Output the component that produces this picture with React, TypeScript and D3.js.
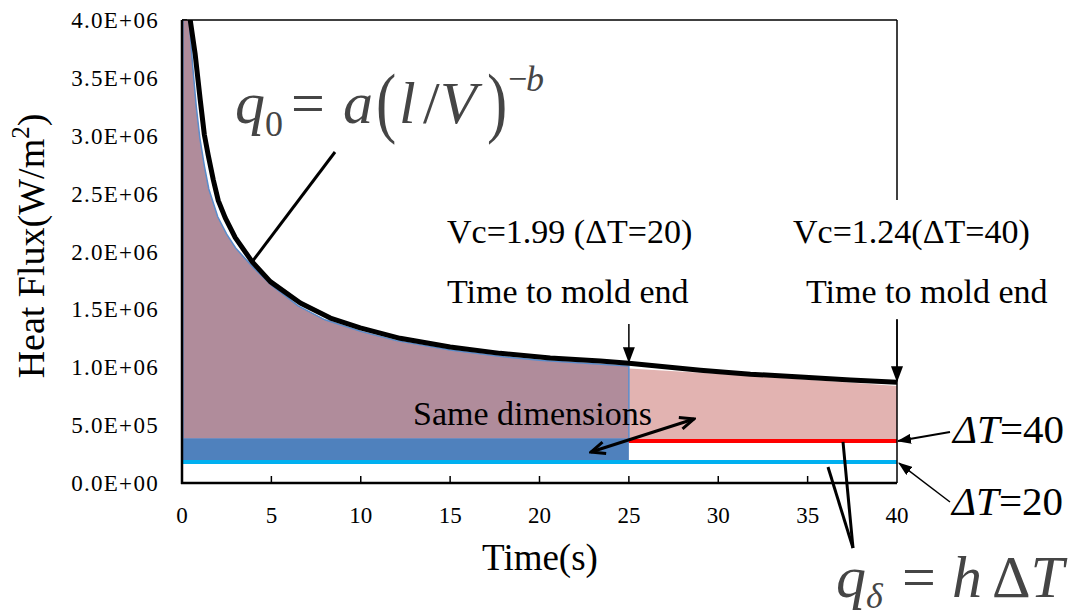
import * as d3 from "d3";
import { useEffect, useRef } from "react";

const xTicks = [0, 5, 10, 15, 20, 25, 30, 35, 40];
const yTicks = [0, 5e5, 1e6, 1.5e6, 2e6, 2.5e6, 3e6, 3.5e6, 4e6];

// measured heat flux (black line)
const measuredTime = [0.4, 0.46, 0.74, 1.02, 1.25, 1.47, 1.75, 2.03, 2.42, 2.98, 3.93, 4.94, 6.62, 8.3, 9.97, 12.2, 15, 17.8, 20.6, 23.4, 25, 29, 31.8, 34.6, 37.4, 40];
const measuredFlux = [4.1e6, 4.0e6, 3.7e6, 3.31e6, 3.01e6, 2.83e6, 2.62e6, 2.44e6, 2.29e6, 2.12e6, 1.91e6, 1.74e6, 1.555e6, 1.425e6, 1.34e6, 1.25e6, 1.175e6, 1.12e6, 1.08e6, 1.055e6, 1.035e6, 0.975e6, 0.94e6, 0.915e6, 0.89e6, 0.87e6];

// q0 model, Vc=1.99 (ΔT=20), until mold end at 25 s
const model20Time = [0.05, 0.4, 0.6, 0.8, 1, 1.25, 1.5, 2, 2.5, 3, 4, 5, 6.5, 8, 10, 12, 15, 18, 20, 23, 25];
const model20Flux = [4.6e6, 4.0e6, 3.6e6, 3.25e6, 2.98e6, 2.74e6, 2.54e6, 2.3e6, 2.15e6, 2.03e6, 1.86e6, 1.71e6, 1.53e6, 1.41e6, 1.31e6, 1.23e6, 1.15e6, 1.09e6, 1.06e6, 1.03e6, 1.01e6];

// q0 model, Vc=1.24 (ΔT=40), shown from 25 s to mold end at 40 s
const model40Time = [25, 29, 32, 35, 37.5, 40];
const model40Flux = [0.99e6, 0.953e6, 0.925e6, 0.893e6, 0.866e6, 0.838e6];

// q_delta = h ΔT
const deltaT = [20, 40];
const qDelta = [1.81e5, 3.63e5];
const moldEnd = [25, 40];
const sameDimTop = 3.8e5;

const FONT = "'Liberation Serif', 'Times New Roman', serif";

function sci(v: number) {
  if (v === 0) return "0.0E+00";
  const e = Math.floor(Math.log10(v));
  const m = v / Math.pow(10, e);
  return `${m.toFixed(1)}E+${String(e).padStart(2, "0")}`;
}

export default function App() {
  const svgRef = useRef<SVGSVGElement | null>(null);

  useEffect(() => {
    if (!svgRef.current) return;
    const svg = d3.select(svgRef.current);
    svg.selectAll("*").remove();

    const width = 1076;
    const height = 615;
    svg.attr("width", width).attr("height", height);

    const x = d3.scaleLinear().domain([0, 40]).range([182, 897]);
    const y = d3.scaleLinear().domain([0, 4e6]).range([483, 20]);

    const defs = svg.append("defs");
    defs.append("clipPath").attr("id", "plot")
      .append("rect")
      .attr("x", x(0)).attr("y", y(4e6))
      .attr("width", x(40) - x(0)).attr("height", y(0) - y(4e6));

    defs.append("marker")
      .attr("id", "headFill")
      .attr("markerUnits", "userSpaceOnUse")
      .attr("viewBox", "0 0 16 12")
      .attr("markerWidth", 16).attr("markerHeight", 12)
      .attr("refX", 15).attr("refY", 6)
      .attr("orient", "auto")
      .append("path").attr("d", "M0,0 L16,6 L0,12 Z").attr("fill", "#000");

    defs.append("marker")
      .attr("id", "headSmall")
      .attr("markerUnits", "userSpaceOnUse")
      .attr("viewBox", "0 0 14 10")
      .attr("markerWidth", 14).attr("markerHeight", 10)
      .attr("refX", 13).attr("refY", 5)
      .attr("orient", "auto")
      .append("path").attr("d", "M0,0 L14,5 L0,10 Z").attr("fill", "#000");

    defs.append("marker")
      .attr("id", "headOpen")
      .attr("markerUnits", "userSpaceOnUse")
      .attr("viewBox", "-2 -2 18 16")
      .attr("markerWidth", 18).attr("markerHeight", 16)
      .attr("refX", 14).attr("refY", 6)
      .attr("orient", "auto-start-reverse")
      .append("path").attr("d", "M0,0 L14,6 L0,12")
      .attr("fill", "none").attr("stroke", "#000").attr("stroke-width", 3);

    // y ticks (inward, mostly hidden by fills)
    svg.append("g").selectAll("line")
      .data(yTicks).enter().append("line")
      .attr("x1", x(0)).attr("x2", x(0) + 5)
      .attr("y1", d => y(d)).attr("y2", d => y(d))
      .attr("stroke", "#000").attr("stroke-width", 1.5);

    const plot = svg.append("g").attr("clip-path", "url(#plot)");

    // ΔT=40 area, 25-40 s
    const pinkPts = model40Time.map((t, i) => [t, model40Flux[i]] as [number, number]);
    plot.append("path")
      .attr("fill", "#e2b3b1")
      .attr("d", d3.area<[number, number]>()
        .x(d => x(d[0])).y0(y(qDelta[1])).y1(d => y(d[1]))(pinkPts)!);

    // red line ΔT=40
    plot.append("line")
      .attr("x1", x(0)).attr("x2", x(40))
      .attr("y1", y(qDelta[1])).attr("y2", y(qDelta[1]))
      .attr("stroke", "#ff0000").attr("stroke-width", 4);

    // ΔT=20 area, 0-25 s
    const purplePts = model20Time.map((t, i) => [t, model20Flux[i]] as [number, number]);
    plot.append("path")
      .attr("fill", "#b08c9b")
      .attr("stroke", "#5a8ccc").attr("stroke-width", 1.5)
      .attr("d", d3.area<[number, number]>()
        .x(d => x(d[0])).y0(y(sameDimTop)).y1(d => y(d[1]))(purplePts)!);

    // same dimensions block
    plot.append("rect")
      .attr("x", x(0)).attr("width", x(moldEnd[0]) - x(0))
      .attr("y", y(sameDimTop)).attr("height", y(qDelta[0]) - y(sameDimTop))
      .attr("fill", "#4f81bd");

    // cyan line ΔT=20
    plot.append("line")
      .attr("x1", x(0)).attr("x2", x(40))
      .attr("y1", y(qDelta[0])).attr("y2", y(qDelta[0]))
      .attr("stroke", "#00b0f0").attr("stroke-width", 4);

    // measured curve
    const measPts = measuredTime.map((t, i) => [t, measuredFlux[i]] as [number, number]);
    plot.append("path")
      .attr("fill", "none")
      .attr("stroke", "#000").attr("stroke-width", 5)
      .attr("stroke-linejoin", "round")
      .attr("d", d3.line<[number, number]>().x(d => x(d[0])).y(d => y(d[1]))(measPts)!);

    // frame
    svg.append("line").attr("x1", x(0)).attr("x2", x(40)).attr("y1", y(4e6)).attr("y2", y(4e6))
      .attr("stroke", "#000").attr("stroke-width", 1.5);
    svg.append("line").attr("x1", x(40)).attr("x2", x(40)).attr("y1", y(4e6)).attr("y2", y(0))
      .attr("stroke", "#000").attr("stroke-width", 1.5);
    svg.append("line").attr("x1", x(0)).attr("x2", x(0)).attr("y1", y(4e6)).attr("y2", y(0) + 1)
      .attr("stroke", "#000").attr("stroke-width", 2.5);
    svg.append("line").attr("x1", x(0) - 1).attr("x2", x(40)).attr("y1", y(0)).attr("y2", y(0))
      .attr("stroke", "#000").attr("stroke-width", 2.5);

    // x ticks inward
    svg.append("g").selectAll("line")
      .data(xTicks.slice(1, -1)).enter().append("line")
      .attr("x1", d => x(d)).attr("x2", d => x(d))
      .attr("y1", y(0)).attr("y2", y(0) - 7)
      .attr("stroke", "#000").attr("stroke-width", 1.5);

    // tick labels
    svg.append("g").selectAll("text")
      .data(xTicks).enter().append("text")
      .attr("x", d => x(d)).attr("y", 523)
      .attr("text-anchor", "middle")
      .attr("font-family", FONT).attr("font-size", 23)
      .text(d => d);

    svg.append("g").selectAll("text")
      .data(yTicks).enter().append("text")
      .attr("x", 159).attr("y", d => y(d) + 8)
      .attr("text-anchor", "end")
      .attr("font-family", FONT).attr("font-size", 23)
      .attr("letter-spacing", 1.3)
      .text(d => sci(d));

    // axis titles
    const yt = svg.append("text")
      .attr("transform", "translate(44,246) rotate(-90)")
      .attr("text-anchor", "middle")
      .attr("font-family", FONT).attr("font-size", 38);
    yt.append("tspan").text("Heat Flux(W/m");
    yt.append("tspan").attr("dy", -15).attr("font-size", 25).text("2");
    yt.append("tspan").attr("dy", 15).text(")");

    svg.append("text")
      .attr("x", 540).attr("y", 570)
      .attr("text-anchor", "middle")
      .attr("font-family", FONT).attr("font-size", 37)
      .text("Time(s)");

    // white box behind right annotation text
    svg.append("rect").attr("x", 785).attr("y", 200).attr("width", 270).attr("height", 119).attr("fill", "#fff");

    const label = (tx: number, ty: number, s: string, size = 34) =>
      svg.append("text").attr("x", tx).attr("y", ty)
        .attr("font-family", FONT).attr("font-size", size).text(s);

    label(447, 243, `Vc=1.99 (ΔT=${deltaT[0]})`);
    label(447, 303, "Time to mold end");
    label(793, 243, `Vc=1.24(ΔT=${deltaT[1]})`);
    label(806, 303, "Time to mold end");
    label(413, 425, "Same dimensions");

    // mold end arrows
    const measAt = (t: number) => measuredFlux[measuredTime.indexOf(t)];
    moldEnd.forEach((t, i) => {
      svg.append("line")
        .attr("x1", x(t)).attr("x2", x(t))
        .attr("y1", i === 0 ? 324 : 320).attr("y2", y(measAt(t)) - 1)
        .attr("stroke", "#000").attr("stroke-width", 1.5)
        .attr("marker-end", "url(#headFill)");
    });

    // same dimensions double arrow
    svg.append("line")
      .attr("x1", 591).attr("y1", 452).attr("x2", 694).attr("y2", 419)
      .attr("stroke", "#000").attr("stroke-width", 3)
      .attr("marker-start", "url(#headOpen)")
      .attr("marker-end", "url(#headOpen)");

    // ΔT labels with arrows
    const dtLabel = (tx: number, ty: number, v: number) => {
      const t = svg.append("text").attr("x", tx).attr("y", ty)
        .attr("font-family", FONT).attr("font-size", 41);
      t.append("tspan").attr("font-style", "italic").text("ΔT");
      t.append("tspan").text(`=${v}`);
    };
    dtLabel(953, 443, deltaT[1]);
    dtLabel(952, 515, deltaT[0]);

    svg.append("line")
      .attr("x1", 950).attr("y1", 432).attr("x2", x(40) + 1).attr("y2", y(qDelta[1]))
      .attr("stroke", "#000").attr("stroke-width", 2)
      .attr("marker-end", "url(#headSmall)");
    svg.append("line")
      .attr("x1", 950).attr("y1", 502).attr("x2", x(40) + 2).attr("y2", y(qDelta[0]) + 1)
      .attr("stroke", "#000").attr("stroke-width", 1.5)
      .attr("marker-end", "url(#headSmall)");

    // q0 formula pointer
    svg.append("line")
      .attr("x1", 335).attr("y1", 152).attr("x2", 252).attr("y2", 262)
      .attr("stroke", "#000").attr("stroke-width", 3);

    // qδ pointers
    svg.append("line").attr("x1", 853).attr("y1", 548).attr("x2", 843).attr("y2", y(qDelta[1]) + 1)
      .attr("stroke", "#000").attr("stroke-width", 3);
    svg.append("line").attr("x1", 853).attr("y1", 548).attr("x2", 828).attr("y2", y(qDelta[0]) + 5)
      .attr("stroke", "#000").attr("stroke-width", 3);

    // formulas
    const gray = "#454545";
    const piece = (tx: number, ty: number, s: string, size: number, italic = false) =>
      svg.append("text").attr("x", tx).attr("y", ty)
        .attr("font-family", FONT).attr("font-size", size)
        .attr("font-style", italic ? "italic" : "normal")
        .attr("fill", gray).text(s);
    const paren = (tx: number, ty: number, s: string) =>
      svg.append("text")
        .attr("transform", `translate(${tx},${ty}) scale(0.78,1)`)
        .attr("font-family", FONT).attr("font-size", 78)
        .attr("fill", gray).text(s);

    piece(235, 123, "q", 60, true);
    piece(265, 136, "0", 36);
    piece(291, 123, "=", 60);
    piece(343, 123, "a", 60, true);
    paren(376, 128, "(");
    piece(399, 123, "l", 60, true);
    piece(423, 123, "/", 60);
    piece(440, 123, "V", 60, true);
    paren(487, 128, ")");
    piece(508, 90, "−", 34);
    piece(526, 91, "b", 36, true);

    piece(836, 597, "q", 60, true);
    piece(866, 608, "δ", 36, true);
    piece(902, 597, "=", 60);
    piece(952, 597, "h", 60, true);
    const dT = svg.append("text").attr("x", 992).attr("y", 597)
      .attr("font-family", FONT).attr("font-size", 60).attr("fill", gray);
    dT.append("tspan").text("Δ");
    dT.append("tspan").attr("font-style", "italic").text("T");
  }, []);

  return (
    <svg ref={svgRef} style={{ position: "absolute", left: 0, top: 0, background: "#fff" }}></svg>
  );
}
